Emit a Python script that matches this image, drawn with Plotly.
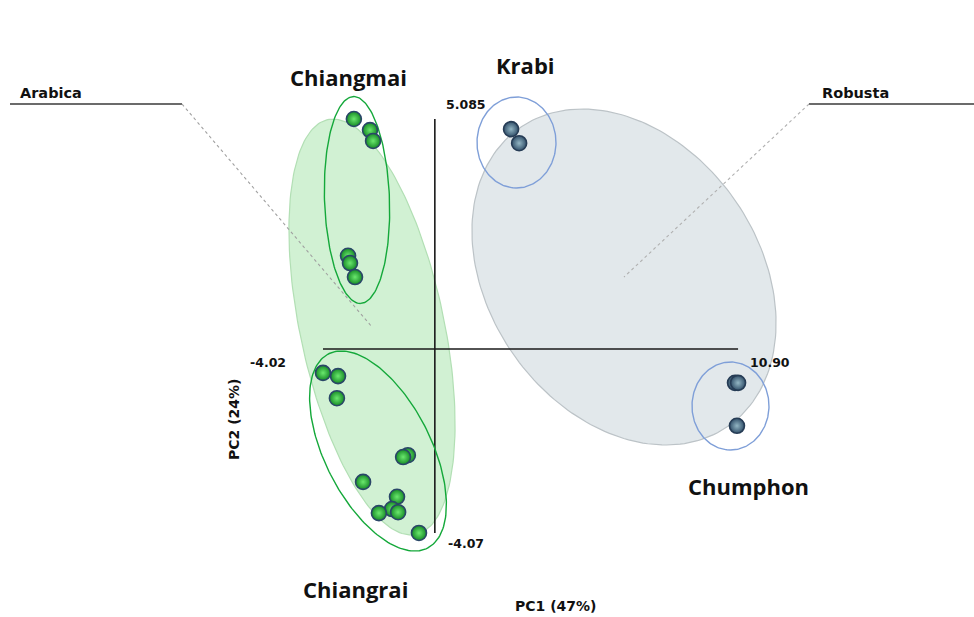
import numpy as np
import plotly.graph_objects as go

# ---- PCA scores (PC1, PC2) of coffee samples by province ----
chiangmai_pc1 = [-2.91, -2.33, -2.22, -3.12, -3.05, -2.87]
chiangmai_pc2 = [5.085, 4.84, 4.60, 2.06, 1.90, 1.59]

chiangrai_pc1 = [-4.02, -3.48, -3.52, -0.97, -1.14, -2.58, -1.36, -1.54, -1.32, -2.01, -0.57]
chiangrai_pc2 = [-0.53, -0.60, -1.09, -2.35, -2.39, -2.94, -3.27, -3.54, -3.61, -3.63, -4.07]

krabi_pc1 = [2.74, 3.03]
krabi_pc2 = [4.86, 4.55]

chumphon_pc1 = [10.79, 10.90, 10.86]
chumphon_pc2 = [-0.75, -0.75, -1.70]

# axis extents and their labels
pc1_limits = [-4.02, 10.90]
pc2_limits = [-4.07, 5.085]
pc1_limit_labels = ["-4.02", "10.90"]
pc2_limit_labels = ["-4.07", "5.085"]
pc1_title = "PC1 (47%)"
pc2_title = "PC2 (24%)"

# ---- canvas geometry ----
W, H = 974, 617
PX_PER_PC1 = 27.82
PX_PER_PC2 = 45.22
ORIGIN_PX = (323 + 4.02 * PX_PER_PC1, 119 + 5.085 * PX_PER_PC2)  # pixel position of (0, 0)

x_range = [(0 - ORIGIN_PX[0]) / PX_PER_PC1, (W - ORIGIN_PX[0]) / PX_PER_PC1]
y_range = [(ORIGIN_PX[1] - H) / PX_PER_PC2, (ORIGIN_PX[1] - 0) / PX_PER_PC2]


def px(xp, yp):
    """Pixel position on the canvas -> data coordinates."""
    return (xp - ORIGIN_PX[0]) / PX_PER_PC1, (ORIGIN_PX[1] - yp) / PX_PER_PC2


def ellipse(cx, cy, a_px, b_px, tilt_deg, n=200):
    """Ellipse centred on (cx, cy) in data units; semi-axes in screen pixels,
    major axis tilted from vertical (top leaning left for positive tilt)."""
    t = np.linspace(0, 2 * np.pi, n)
    th = np.radians(tilt_deg)
    ux, uy = np.sin(th), np.cos(th)      # major axis (screen, y down)
    vx, vy = np.cos(th), -np.sin(th)     # minor axis
    dx = a_px * np.cos(t) * ux + b_px * np.sin(t) * vx
    dy = a_px * np.cos(t) * uy + b_px * np.sin(t) * vy
    return cx + dx / PX_PER_PC1, cy - dy / PX_PER_PC2


fig = go.Figure()

# species confidence regions
arabica_c = px(372, 327)
robusta_c = px(624, 277)
ex, ey = ellipse(*robusta_c, 182, 135, 35)
fig.add_trace(go.Scatter(x=ex, y=ey, mode="lines", fill="toself",
                         fillcolor="rgba(216,224,228,0.75)",
                         line=dict(color="#bcc3c7", width=1.2), hoverinfo="skip"))
ex, ey = ellipse(*arabica_c, 212, 72, 12)
fig.add_trace(go.Scatter(x=ex, y=ey, mode="lines", fill="toself",
                         fillcolor="rgba(198,238,200,0.8)",
                         line=dict(color="#b2dfb4", width=1.2), hoverinfo="skip"))

# species callouts
ar_a, ar_b = px(10, 104), px(182, 104)
rb_a, rb_b = px(809, 104), px(974, 104)
for (x0, y0), (x1, y1), dash, col, w in [
    (ar_a, ar_b, "solid", "#3a3a3a", 1.5),
    (ar_b, arabica_c, "dot", "#a0a0a0", 1.1),
    (rb_a, rb_b, "solid", "#3a3a3a", 1.5),
    (rb_a, robusta_c, "dot", "#b0b0b0", 1.1),
]:
    fig.add_trace(go.Scatter(x=[x0, x1], y=[y0, y1], mode="lines",
                             line=dict(color=col, width=w, dash=dash), hoverinfo="skip"))

# principal component axes
fig.add_trace(go.Scatter(x=pc1_limits, y=[0, 0], mode="lines",
                         line=dict(color="#1a1a1a", width=1.6), hoverinfo="skip"))
fig.add_trace(go.Scatter(x=[0, 0], y=pc2_limits, mode="lines",
                         line=dict(color="#1a1a1a", width=1.6), hoverinfo="skip"))

# province outlines
for c, a, b, tilt, col in [
    (px(357, 200), 103.5, 32.5, 2, "#14a83a"),
    (px(378, 451), 109, 53, 27, "#14a83a"),
    (px(516.5, 142.5), 45.5, 39.5, 0, "#7f9fd8"),
    (px(730.5, 406), 44, 38.5, 0, "#7f9fd8"),
]:
    ex, ey = ellipse(*c, a, b, tilt)
    fig.add_trace(go.Scatter(x=ex, y=ey, mode="lines",
                             line=dict(color=col, width=1.4), hoverinfo="skip"))

# sample scores
green_marker = dict(size=15, color="#168a26",
                    gradient=dict(type="radial", color="#6be86e"),
                    line=dict(color="#2a4668", width=1.6))
blue_marker = dict(size=15, color="#32506a",
                   gradient=dict(type="radial", color="#93b6c4"),
                   line=dict(color="#263c55", width=1.6))
fig.add_trace(go.Scatter(x=chiangmai_pc1, y=chiangmai_pc2, mode="markers",
                         marker=green_marker, name="Chiangmai"))
fig.add_trace(go.Scatter(x=chiangrai_pc1, y=chiangrai_pc2, mode="markers",
                         marker=green_marker, name="Chiangrai"))
fig.add_trace(go.Scatter(x=krabi_pc1, y=krabi_pc2, mode="markers",
                         marker=blue_marker, name="Krabi"))
fig.add_trace(go.Scatter(x=chumphon_pc1, y=chumphon_pc2, mode="markers",
                         marker=blue_marker, name="Chumphon"))

annotations = []


def label(text, xy, size, family, angle=0, xshift=0, yshift=0):
    annotations.append(dict(x=xy[0], y=xy[1], text=text, showarrow=False,
                            font=dict(family=family, size=size, color="#111111"),
                            textangle=angle, xshift=xshift, yshift=yshift,
                            xanchor="center", yanchor="middle"))


num_font = "DejaVu Sans"
label(f"<b>{pc1_limit_labels[0]}</b>", (pc1_limits[0], 0), 12.5, num_font, xshift=-55, yshift=-14)
label(f"<b>{pc1_limit_labels[1]}</b>", (pc1_limits[1], 0), 12.5, num_font, xshift=32, yshift=-14)
label(f"<b>{pc2_limit_labels[0]}</b>", (0, pc2_limits[0]), 12.5, num_font, xshift=31, yshift=-11)
label(f"<b>{pc2_limit_labels[1]}</b>", (0, pc2_limits[1]), 12.5, num_font, xshift=31, yshift=15)
label(f"<b>{pc1_title}</b>", px(555, 606), 14, num_font)
label(f"<b>{pc2_title}</b>", px(234, 420), 14, num_font, angle=-90)
label("<b>Arabica</b>", px(51, 93), 14.5, num_font)
label("<b>Robusta</b>", px(855, 93), 14.5, num_font)

grp_font = "Open Sans"
label("<b>Chiangmai</b>", px(348, 77), 22, grp_font)
label("<b>Krabi</b>", px(525, 65), 22, grp_font)
label("<b>Chumphon</b>", px(748, 486), 22, grp_font)
label("<b>Chiangrai</b>", px(355, 589), 22, grp_font)

fig.update_layout(
    width=W, height=H,
    margin=dict(l=0, r=0, t=0, b=0),
    paper_bgcolor="white", plot_bgcolor="white",
    showlegend=False,
    xaxis=dict(range=x_range, visible=False, fixedrange=True),
    yaxis=dict(range=y_range, visible=False, fixedrange=True),
    annotations=annotations,
)

fig.write_html("out.html")
